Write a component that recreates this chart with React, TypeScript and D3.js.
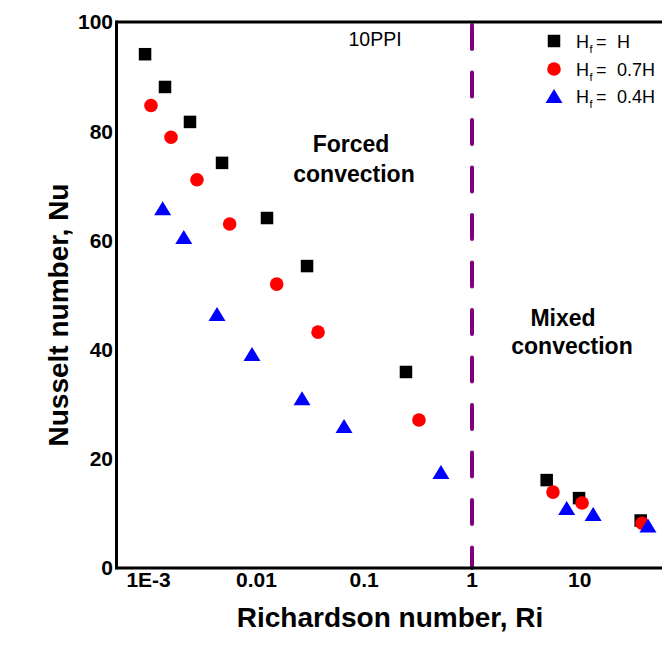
import React from "react";
import * as d3 from "d3";

const riH = [0.000927, 0.00142, 0.00242, 0.0048, 0.01254, 0.0295, 0.244, 4.93, 9.84, 36.7];
const nuH = [94.1, 88.1, 81.7, 74.2, 64.1, 55.3, 35.9, 16.1, 12.8, 8.7];
const ri07 = [0.001052, 0.001614, 0.00281, 0.00565, 0.01543, 0.0373, 0.322, 5.64, 10.5, 37.8];
const nu07 = [84.7, 78.9, 71.1, 63.0, 52.0, 43.2, 27.1, 13.9, 11.9, 8.2];
const ri04 = [0.00135, 0.00212, 0.00431, 0.0091, 0.0265, 0.065, 0.515, 7.56, 13.3, 42.9];
const nu04 = [65.9, 60.6, 46.5, 39.2, 31.1, 26.0, 17.6, 11.0, 9.9, 7.8];

const xTicks = [0.001, 0.01, 0.1, 1, 10];
const xTickLabels = ["1E-3", "0.01", "0.1", "1", "10"];
const yTicks = [0, 20, 40, 60, 80, 100];
const legendLabels = ["H", "0.7H", "0.4H"];
const dividerRi = 1;

const W = 662;
const H = 671;
const left = 116.5;
const top = 22;
const bottom = 568;
// x(1) = 472, decade = 107.8 px
const xMinLog = Math.log10(1) - (472 - left) / 107.8;
const right = 700;
const xMaxLog = (right - 472) / 107.8;

export default function App() {
  const x = d3.scaleLog().domain([Math.pow(10, xMinLog), Math.pow(10, xMaxLog)]).range([left, right]);
  const y = d3.scaleLinear().domain([0, 100]).range([bottom, top]);
  const font = "'Liberation Sans', Arial, sans-serif";

  const sq = 12.5;
  const triW = 17;
  const triH = 14;
  const triPath = (cx: number, cy: number) =>
    `M${cx - triW / 2},${cy + triH / 2}L${cx + triW / 2},${cy + triH / 2}L${cx},${cy - triH / 2}Z`;

  const legendY = [41, 69, 96];

  return (
    <svg width={W} height={H} style={{ position: "absolute", left: 0, top: 0, background: "#fff" }} fontFamily={font}>
      <rect x={0} y={0} width={W} height={H} fill="#fff" />
      {/* dashed divider */}
      <line
        x1={x(dividerRi)}
        x2={x(dividerRi)}
        y1={25}
        y2={bottom}
        stroke="#800080"
        strokeWidth={4}
        strokeDasharray="24 23.5"
        strokeLinecap="round"
      />
      {/* axes */}
      <line x1={left} x2={W + 5} y1={top} y2={top} stroke="#000" strokeWidth={3} />
      <line x1={left} x2={W + 5} y1={bottom} y2={bottom} stroke="#000" strokeWidth={3} />
      <line x1={left} x2={left} y1={top - 1.5} y2={bottom + 1.5} stroke="#000" strokeWidth={3} />

      {/* y tick labels */}
      {yTicks.map((t) => (
        <text key={t} x={113} y={y(t)} dy="0.35em" textAnchor="end" fontSize={21} fontWeight="bold">
          {t}
        </text>
      ))}
      {/* x tick labels */}
      {xTicks.map((t, i) => (
        <text key={t} x={x(t)} y={587} textAnchor="middle" fontSize={21} fontWeight="bold">
          {xTickLabels[i]}
        </text>
      ))}

      {/* axis titles */}
      <text x={390} y={627} textAnchor="middle" fontSize={28} fontWeight="bold">
        Richardson number, Ri
      </text>
      <text transform="translate(68,315) rotate(-90)" textAnchor="middle" fontSize={28} fontWeight="bold">
        Nusselt number, Nu
      </text>

      {/* annotations */}
      <text x={375} y={46} textAnchor="middle" fontSize={19.5}>
        10PPI
      </text>
      <text x={351} y={152} textAnchor="middle" fontSize={23} fontWeight="bold">
        Forced
      </text>
      <text x={354} y={182} textAnchor="middle" fontSize={23} fontWeight="bold">
        convection
      </text>
      <text x={563} y={326} textAnchor="middle" fontSize={23} fontWeight="bold">
        Mixed
      </text>
      <text x={572} y={354} textAnchor="middle" fontSize={23} fontWeight="bold">
        convection
      </text>

      {/* data: black squares */}
      {riH.map((r, i) => (
        <rect key={"h" + i} x={x(r) - sq / 2} y={y(nuH[i]) - sq / 2} width={sq} height={sq} fill="#000" />
      ))}
      {/* red circles */}
      {ri07.map((r, i) => (
        <circle key={"r" + i} cx={x(r)} cy={y(nu07[i])} r={6.8} fill="#ff0000" />
      ))}
      {/* blue triangles */}
      {ri04.map((r, i) => (
        <path key={"b" + i} d={triPath(x(r), y(nu04[i]))} fill="#0000ff" />
      ))}

      {/* legend */}
      <rect x={554 - sq / 2} y={legendY[0] - sq / 2} width={sq} height={sq} fill="#000" />
      <circle cx={554} cy={legendY[1]} r={6.8} fill="#ff0000" />
      <path d={triPath(554, legendY[2])} fill="#0000ff" />
      {legendLabels.map((lab, i) => (
        <g key={lab} fontSize={18}>
          <text x={576} y={legendY[i] + 6.5}>H</text>
          <text x={589.5} y={legendY[i] + 11.5} fontSize={11}>f</text>
          <text x={596} y={legendY[i] + 6.5}>=</text>
          <text x={617} y={legendY[i] + 6.5}>{lab}</text>
        </g>
      ))}
    </svg>
  );
}
